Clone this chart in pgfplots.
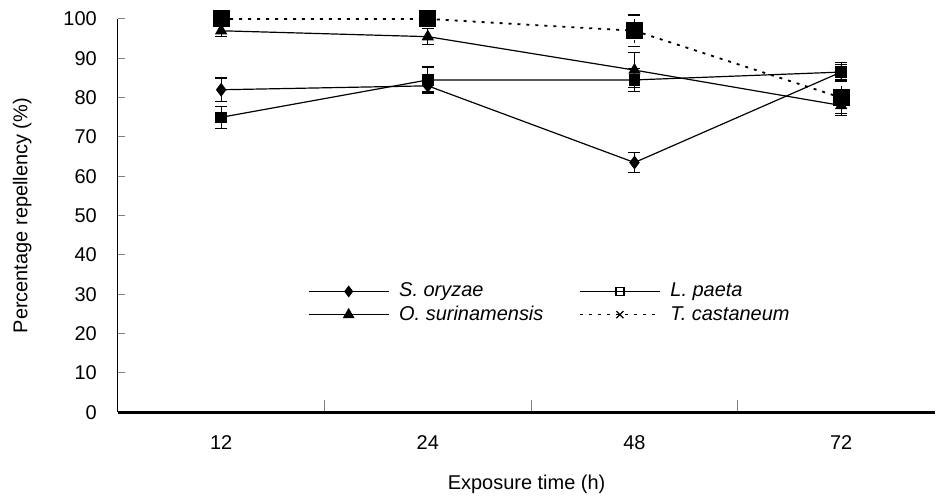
\documentclass[border=0pt]{standalone}
\usepackage{fontspec}
\setmainfont{Liberation Sans}
\usepackage{pgfplots}
\pgfplotsset{compat=1.18}

\newcommand{\fs}{\fontsize{10}{12}\selectfont}

\begin{document}
\begin{tikzpicture}
\begin{axis}[
    scale only axis,
    width=409.5pt, height=197pt,
    xmin=-0.5, xmax=3.456,
    ymin=0, ymax=100,
    clip=false,
    axis lines*=left,
    x axis line style={line width=1.6pt},
    y axis line style={line width=0.5pt},
    xtick={0,1,2,3},
    xticklabels={12,24,48,72},
    major x tick style={draw=none},
    minor xtick={0.5,1.5,2.5},
    minor x tick style={line width=0.5pt},
    minor tick length=6pt,
    ytick={0,10,...,100},
    y tick style={line width=0.5pt},
    major tick length=3.5pt,
    tick align=inside,
    /pgf/number format/assume math mode=true,
    tick label style={font=\fs},
    xticklabel style={yshift=-8pt},
    yticklabel style={xshift=-7pt},
    xlabel={Exposure time (h)},
    ylabel={Percentage repellency (\%)},
    label style={font=\fs},
    xlabel style={at={(axis description cs:0.5,-0.183)}, anchor=center},
    ylabel style={at={(axis description cs:-0.117,0.5)}, anchor=center, rotate=0},
    legend columns=2,
    legend cell align=left,
    legend style={draw=none, fill=none, font=\fs\itshape,
        at={(axis description cs:0.225,0.35)}, anchor=north west,
        /tikz/every odd column/.append style={column sep=3pt},
        /tikz/every even column/.append style={column sep=16pt},
        row sep=-1pt},
    legend image code/.code={
        \draw[mark repeat=2,mark phase=2,#1]
            plot coordinates {(0pt,0pt) (20pt,0pt) (40pt,0pt)};
    },
    error bars/error mark options={rotate=90, mark size=3pt, line width=0.6pt},
    error bars/error bar style={line width=0.6pt},
]
% S. oryzae
\addplot[forget plot, black, line width=0.6pt, mark=diamond*, mark size=3pt,
    error bars/.cd, y dir=both, y explicit] coordinates {
    (0,82)   +- (0,3)
    (1,83)   +- (0,1.5)
    (2,63.5) +- (0,2.5)
    (3,86.5) +- (0,2.5)
};
% L. paeta
\addplot[forget plot, black, line width=0.6pt, mark=square*, mark size=2.6pt,
    error bars/.cd, y dir=both, y explicit] coordinates {
    (0,75)   +- (0,2.8)
    (1,84.5) +- (0,3.3)
    (2,84.5) +- (0,3)
    (3,86.5) +- (0,2)
};
% O. surinamensis
\addplot[forget plot, black, line width=0.6pt, mark=triangle*, mark size=3pt,
    error bars/.cd, y dir=both, y explicit] coordinates {
    (0,97)   +- (0,1.5)
    (1,95.5) +- (0,2)
    (2,87)   +- (0,4.4)
    (3,78)   +- (0,2.5)
};
% T. castaneum
\addplot[forget plot, black, line width=0.9pt, dash pattern=on 1.5pt off 3pt,
    mark=square*, mark size=3.8pt, mark options={solid},
    error bars/.cd, y dir=both, y explicit] coordinates {
    (0,100) +- (0,0.5)
    (1,100) +- (0,0.5)
    (2,97)  +- (0,4)
    (3,80)  +- (0,4)
};
\addlegendimage{black, line width=0.6pt, mark=diamond*, mark size=2.5pt}
\addlegendentry{S. oryzae}
\addlegendimage{black, line width=0.6pt, mark=square, mark size=2pt}
\addlegendentry{L. paeta}
\addlegendimage{black, line width=0.6pt, mark=triangle*, mark size=2.8pt}
\addlegendentry{O. surinamensis}
\addlegendimage{black, line width=0.6pt, dash pattern=on 1.5pt off 3pt,
    mark=x, mark size=2.5pt, mark options={solid}}
\addlegendentry{T. castaneum}
\end{axis}
\path (current axis.south west) ++(-59pt,-45pt);
\path (current axis.north east) ++(0pt,9.5pt);
\end{tikzpicture}
\end{document}
